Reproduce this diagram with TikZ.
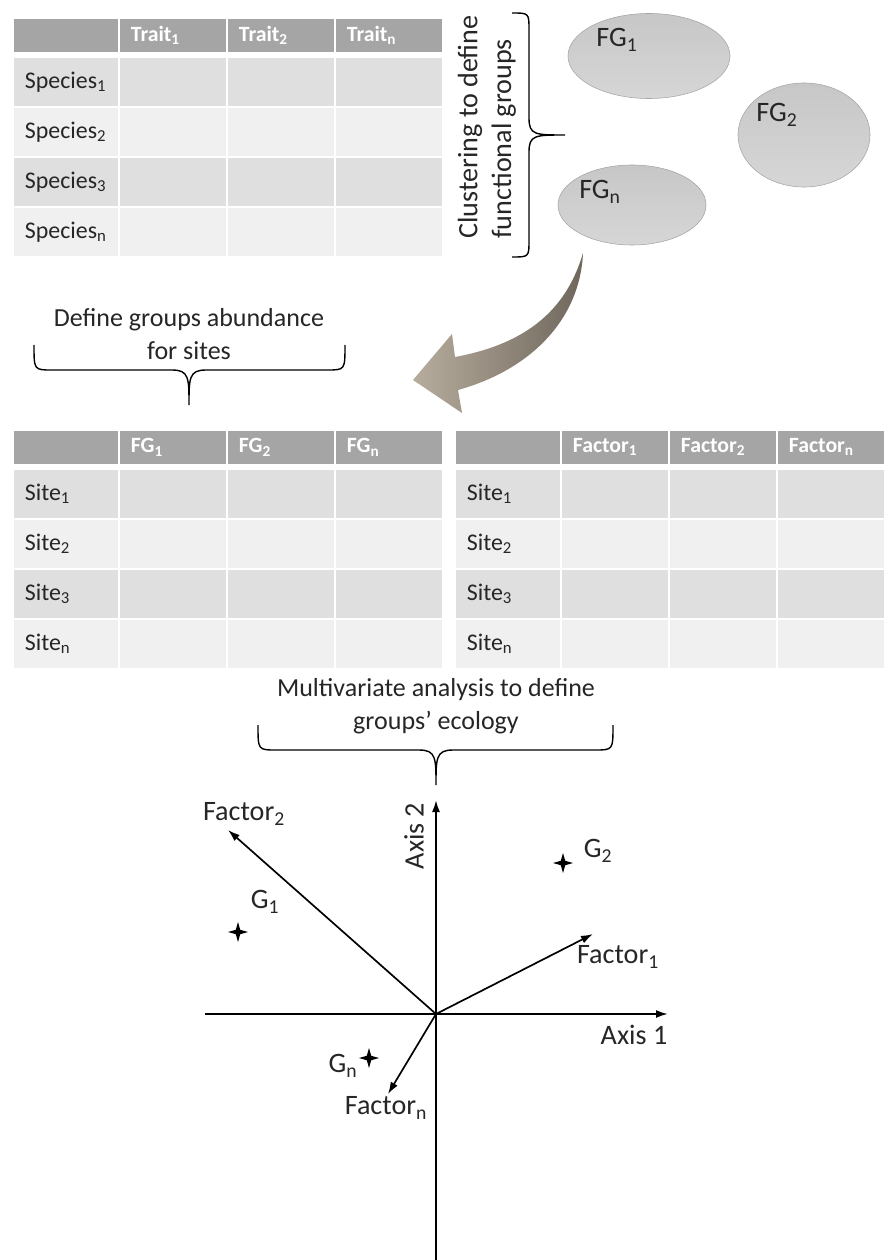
\documentclass[tikz,border=0pt]{standalone}
\usepackage{fontspec}
\setmainfont{Carlito}
\usetikzlibrary{shapes.geometric,arrows.meta}
\definecolor{headgray}{HTML}{A5A5A5}
\definecolor{rowdark}{HTML}{DFDFDF}
\definecolor{rowlight}{HTML}{F0F0F0}
\definecolor{inktext}{HTML}{262626}
\definecolor{arrowlight}{HTML}{B7AD9E}
\definecolor{arrowdark}{HTML}{6F675C}

\begin{document}
\begin{tikzpicture}[x=0.025cm, y=-0.025cm,
    font=\fontsize{20}{24}\selectfont, text=inktext,
    cell/.style={draw=white, line width=1.2pt, anchor=north west, align=left, inner xsep=0.3cm, inner ysep=0pt},
    firstcol/.style={text width=2.05cm},
    datacol/.style={text width=2.1cm},
    headcell/.style={cell, fill=headgray, minimum height=0.875cm, text=white, font=\bfseries\fontsize{15.5}{18}\selectfont},
    bodycell/.style={cell, minimum height=1.25cm, font=\fontsize{17}{20}\selectfont},
    bracetext/.style={align=center, font=\fontsize{18.5}{23.5}\selectfont},
    groupblob/.style={ellipse, draw=black!35, top color=black!22, bottom color=black!16, inner sep=0pt},
    bracestroke/.style={line width=1pt},
    axisline/.style={line width=1.4pt, -{Latex[length=3mm, width=2mm]}},
    loadarrow/.style={line width=1.2pt, -{Latex[length=3mm, width=2mm]}},
    sitemark/.style={star, star points=4, star point ratio=3.2, fill=black, minimum size=0.5cm, inner sep=0pt}]
    \useasboundingbox (0,0) rectangle (884,1260);

    % the three tables
    \foreach \tab/\tx/\ty/\hd/\rl in {tr/12/17/Trait/Species, fg/12/429/FG/Site, fa/454/429/Factor/Site} {
        \node[headcell, firstcol] (\tab-h0) at (\tx,\ty) {};
        \foreach \c/\s in {1/1, 2/2, 3/n}
            \node[headcell, datacol] (\tab-h\c) at ({\tx+106+108*(\c-1)},\ty) {\hd\textsubscript{\s}};
        \foreach \r/\s/\fillc in {1/1/rowdark, 2/2/rowlight, 3/3/rowdark, 4/n/rowlight} {
            \node[bodycell, firstcol, fill=\fillc] (\tab-\r0) at (\tx,{\ty+39+50*(\r-1)}) {\rl\textsubscript{\s}};
            \foreach \c in {1,2,3}
                \node[bodycell, datacol, fill=\fillc] (\tab-\r\c) at ({\tx+106+108*(\c-1)},{\ty+39+50*(\r-1)}) {};
        }
    }

    % clustering
    \node[rotate=90, align=left] (clust) at (487,127) {Clustering to define\\functional groups};
    \draw[bracestroke] (512,13) .. controls (529,13) .. (529,30) -- (529,118)
        .. controls (529,135) and (535,135) .. (565,135)
        .. controls (535,135) and (529,135) .. (529,152) -- (529,240) .. controls (529,257) .. (512,257);
    \node[groupblob, minimum width=4.05cm, minimum height=2.125cm] (fg1) at (649,56) {};
    \node[groupblob, minimum width=3.3cm, minimum height=2.6cm] (fg2) at (804,135) {};
    \node[groupblob, minimum width=3.7cm, minimum height=2cm] (fgn) at (632,205) {};
    \node (fg1-lab) at ([shift={(-32,-16)}]fg1.center) {FG\textsubscript{1}};
    \node (fg2-lab) at ([shift={(-27,-20)}]fg2.center) {FG\textsubscript{2}};
    \node (fgn-lab) at ([shift={(-32,-13)}]fgn.center) {FG\textsubscript{n}};

    % big curved arrow
    \shade[left color=arrowlight, right color=arrowdark]
        (583,253) .. controls (565,315) and (520,345) .. (455,357) -- (452,334) -- (413,380)
        -- (462,413) -- (458,390) .. controls (530,370) and (580,320) .. (583,253) -- cycle;

    % abundance
    \node[bracetext] (abund) at (189,334) {Define groups abundance\\for sites};
    \draw[bracestroke] (34,345) .. controls (34,370) .. (52,370) -- (172,370)
        .. controls (189,370) and (189,378) .. (189,405)
        .. controls (189,378) and (189,370) .. (206,370) -- (327,370) .. controls (345,370) .. (345,345);

    % multivariate analysis
    \node[bracetext] (multi) at (436,706) {Multivariate analysis to define\\groups’ ecology};
    \draw[bracestroke] (258,725) .. controls (258,750) .. (276,750) -- (419,750)
        .. controls (436,750) and (436,758) .. (436,785)
        .. controls (436,758) and (436,750) .. (453,750) -- (595,750) .. controls (613,750) .. (613,725);

    % biplot
    \coordinate (o) at (436,1014);
    \coordinate (ax1-start) at (205,1014);
    \coordinate (ax1-end) at (668,1014);
    \coordinate (ax2-start) at (436,1262);
    \coordinate (ax2-end) at (436,800);
    \draw[axisline] (ax1-start) -- (ax1-end);
    \draw[axisline] (ax2-start) -- (ax2-end);
    \node (ax1-lab) at (634,1035) {Axis 1};
    \node[rotate=90] (ax2-lab) at (414,836) {Axis 2};

    \node (f1-lab) at (618,957) {Factor\textsubscript{1}};
    \node (f2-lab) at (244,814) {Factor\textsubscript{2}};
    \node (fn-lab) at (386,1108) {Factor\textsubscript{n}};
    \coordinate (f1) at (593,934);
    \coordinate (f2) at (228,830);
    \coordinate (fn) at (388,1094);
    \draw[loadarrow] (o) -- (f1);
    \draw[loadarrow] (o) -- (f2);
    \draw[loadarrow] (o) -- (fn);

    \node[sitemark] (g1) at (238,932) {};
    \node[sitemark] (g2) at (563,863) {};
    \node[sitemark] (gn) at (369,1058) {};
    \node (g1-lab) at (265,902) {G\textsubscript{1}};
    \node (g2-lab) at (598,851) {G\textsubscript{2}};
    \node (gn-lab) at (343,1066) {G\textsubscript{n}};
\end{tikzpicture}
\end{document}
